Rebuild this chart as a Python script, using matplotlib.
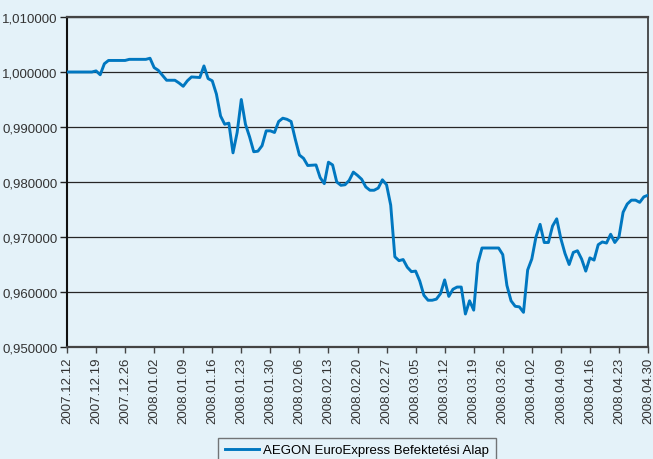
import datetime as dt
import matplotlib
matplotlib.use("Agg")
import matplotlib.pyplot as plt
import matplotlib.dates as mdates
from matplotlib.ticker import FuncFormatter

# Net asset value per unit
start_date = dt.date(2007, 12, 12)
day_offsets = [
    0, 6, 7, 8, 9, 10, 14, 15, 19, 20, 21, 22, 23, 24, 26, 27, 28, 29, 30, 32,
    33, 34, 35, 36, 37, 38, 39, 40, 41, 42, 43, 44, 45, 46, 47, 48, 49, 50, 51, 52,
    53, 54, 55, 56, 57, 58, 60, 61, 62, 63, 64, 65, 66, 67, 68, 69, 70, 71, 72, 73,
    74, 75, 76, 77, 78, 79, 80, 81, 82, 83, 84, 85, 86, 87, 88, 89, 90, 91, 92, 93,
    94, 95, 96, 97, 98, 99, 100, 104, 105, 106, 107, 108, 109, 110, 111, 112, 113,
    114, 115, 116, 117, 118, 119, 120, 121, 122, 123, 124, 125, 126, 127, 128, 129,
    130, 131, 132, 133, 134, 135, 136, 137, 138, 139, 140,
]
values = [
    1.0000, 1.0000, 1.0002, 0.9995, 1.0015, 1.0021, 1.0021, 1.0023, 1.0023, 1.0025,
    1.0008, 1.0003, 0.9994, 0.9985, 0.9985, 0.9980, 0.9974, 0.9984, 0.9991, 0.9990,
    1.0011, 0.9988, 0.9984, 0.9960, 0.9920, 0.9905, 0.9907, 0.9853, 0.9890, 0.9950,
    0.9905, 0.9882, 0.9855, 0.9856, 0.9866, 0.9893, 0.9893, 0.9890, 0.9910, 0.9916,
    0.9914, 0.9910, 0.9878, 0.9849, 0.9843, 0.9830, 0.9831, 0.9808, 0.9797, 0.9836,
    0.9831, 0.9800, 0.9794, 0.9795, 0.9803, 0.9818, 0.9812, 0.9805, 0.9791, 0.9785,
    0.9785, 0.9789, 0.9804, 0.9795, 0.9758, 0.9664, 0.9657, 0.9659, 0.9645, 0.9637,
    0.9638, 0.9620, 0.9594, 0.9585, 0.9585, 0.9587, 0.9597, 0.9622, 0.9592, 0.9605,
    0.9609, 0.9609, 0.9560, 0.9584, 0.9567, 0.9652, 0.9680, 0.9680, 0.9668, 0.9612,
    0.9584, 0.9574, 0.9573, 0.9563, 0.9640, 0.9660, 0.9700, 0.9723, 0.9690, 0.9690,
    0.9720, 0.9733, 0.9697, 0.9670, 0.9650, 0.9672, 0.9675, 0.9660, 0.9638, 0.9662,
    0.9658, 0.9686, 0.9691, 0.9689, 0.9705, 0.9690, 0.9700, 0.9745, 0.9760, 0.9767,
    0.9767, 0.9763, 0.9773, 0.9776,
]
series_name = "AEGON EuroExpress Befektetési Alap"
y_ticks = [0.95, 0.96, 0.97, 0.98, 0.99, 1.00, 1.01]

dates = [start_date + dt.timedelta(days=d) for d in day_offsets]
tick_dates = [start_date + dt.timedelta(days=7 * i) for i in range(21)]

bg = "#e4f2f9"
plt.rcParams["font.family"] = ["Liberation Sans", "DejaVu Sans"]

fig = plt.figure(figsize=(6.53, 4.60), dpi=100, facecolor=bg)
ax = fig.add_axes([67 / 653, 1 - 348 / 460, 581 / 653, 330 / 460])
ax.set_facecolor(bg)

line, = ax.plot(dates, values, color="#0077c0", lw=2.1,
                solid_joinstyle="round", label=series_name, zorder=3)

ax.set_ylim(0.95, 1.01)
ax.set_yticks(y_ticks)
ax.yaxis.set_major_formatter(FuncFormatter(lambda v, p: f"{v:.6f}".replace(".", ",")))
ax.yaxis.grid(True, color="#262626", lw=0.9)
ax.set_axisbelow(True)

ax.set_xlim(start_date, start_date + dt.timedelta(days=140.7))
ax.set_xticks(tick_dates)
ax.xaxis.set_major_formatter(mdates.DateFormatter("%Y.%m.%d"))
plt.setp(ax.get_xticklabels(), rotation=90)

ax.tick_params(axis="y", length=5, width=1, color="#222", labelsize=9.5,
               labelcolor="#333", pad=2)
ax.tick_params(axis="x", length=4, width=1, color="#444", labelsize=9.5,
               labelcolor="#333", pad=3)

ax.spines["left"].set_color("#111")
ax.spines["left"].set_linewidth(1.5)
for side in ["top", "bottom"]:
    ax.spines[side].set_color("#444")
    ax.spines[side].set_linewidth(1.6)
ax.spines["right"].set_color("#333")
ax.spines["right"].set_linewidth(1.2)

leg = fig.legend(handles=[line], loc="upper center",
                 bbox_to_anchor=(357 / 653, 1 - 432 / 460),
                 frameon=True, fancybox=False, fontsize=9.5,
                 handlelength=2.6, handletextpad=0.3, borderpad=0.5)
leg.get_frame().set_edgecolor("#555")
leg.get_frame().set_facecolor(bg)
leg.get_frame().set_linewidth(1.0)

fig.savefig("out.png", dpi=100, facecolor=bg)
